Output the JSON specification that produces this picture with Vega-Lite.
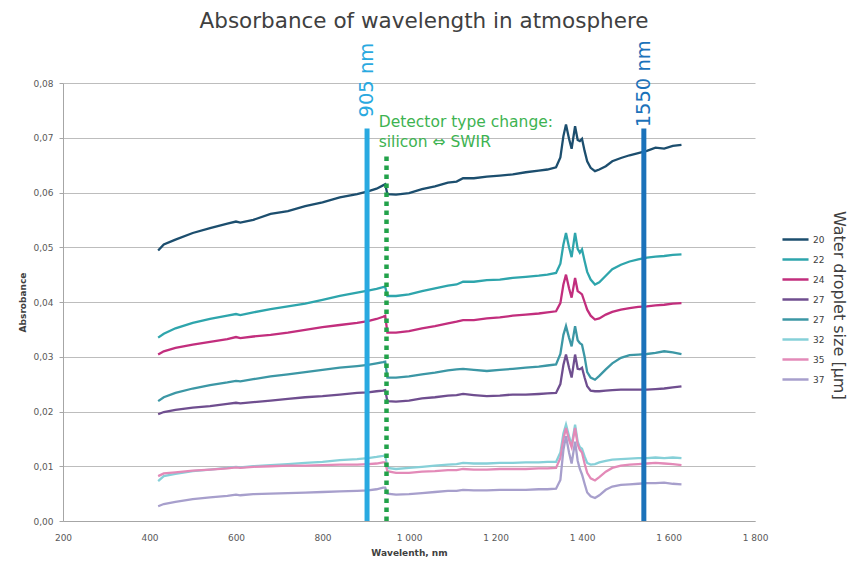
{
  "$schema": "https://vega.github.io/schema/vega-lite/v6.json",
  "autosize": "none",
  "width": 692,
  "height": 438,
  "padding": {"left": 63, "top": 83, "right": 97, "bottom": 43},
  "background": "white",
  "title": {"text": "Absorbance of wavelength in atmosphere", "font": "DejaVu Sans", "fontSize": 21.5, "fontWeight": "normal", "color": "#404040", "offset": 8, "dx": 15},
  "config": {
    "view": {"stroke": null},
    "font": "DejaVu Sans",
    "axis": {"labelFont": "DejaVu Sans", "labelFontSize": 9, "labelColor": "#595959", "titleFont": "DejaVu Sans", "titleFontSize": 9, "titleFontWeight": "bold", "titleColor": "#404040", "domainColor": "#a6a6a6", "tickColor": "#a6a6a6", "gridColor": "#bdbdbd"}
  },
  "data": {"values": [
    {"w":420,"s20":0.0494,"s22":0.0335,"s24":0.0304,"s27":0.0195,"s27b":0.0219,"s32":0.0073,"s35":0.0082,"s37":0.0027},
    {"w":433,"s20":0.0505,"s22":0.0342,"s24":0.0310,"s27":0.0199,"s27b":0.0226,"s32":0.0082,"s35":0.0087,"s37":0.0031},
    {"w":460,"s20":0.0514,"s22":0.0352,"s24":0.0316,"s27":0.0203,"s27b":0.0234,"s32":0.0086,"s35":0.0089,"s37":0.0035},
    {"w":500,"s20":0.0526,"s22":0.0362,"s24":0.0322,"s27":0.0207,"s27b":0.0242,"s32":0.0091,"s35":0.0092,"s37":0.0040},
    {"w":540,"s20":0.0535,"s22":0.0369,"s24":0.0327,"s27":0.0210,"s27b":0.0248,"s32":0.0094,"s35":0.0094,"s37":0.0043},
    {"w":580,"s20":0.0543,"s22":0.0375,"s24":0.0332,"s27":0.0214,"s27b":0.0253,"s32":0.0097,"s35":0.0096,"s37":0.0046},
    {"w":600,"s20":0.0547,"s22":0.0378,"s24":0.0336,"s27":0.0216,"s27b":0.0256,"s32":0.0099,"s35":0.0098,"s37":0.0048},
    {"w":610,"s20":0.0545,"s22":0.0376,"s24":0.0334,"s27":0.0215,"s27b":0.0255,"s32":0.0098,"s35":0.0097,"s37":0.0047},
    {"w":640,"s20":0.0550,"s22":0.0381,"s24":0.0337,"s27":0.0217,"s27b":0.0259,"s32":0.0100,"s35":0.0099,"s37":0.0049},
    {"w":680,"s20":0.0561,"s22":0.0387,"s24":0.0340,"s27":0.0220,"s27b":0.0264,"s32":0.0102,"s35":0.0100,"s37":0.0050},
    {"w":720,"s20":0.0566,"s22":0.0392,"s24":0.0344,"s27":0.0223,"s27b":0.0268,"s32":0.0104,"s35":0.0101,"s37":0.0051},
    {"w":760,"s20":0.0575,"s22":0.0397,"s24":0.0349,"s27":0.0226,"s27b":0.0272,"s32":0.0106,"s35":0.0101,"s37":0.0052},
    {"w":800,"s20":0.0582,"s22":0.0404,"s24":0.0354,"s27":0.0228,"s27b":0.0276,"s32":0.0108,"s35":0.0102,"s37":0.0053},
    {"w":840,"s20":0.0591,"s22":0.0411,"s24":0.0358,"s27":0.0231,"s27b":0.0280,"s32":0.0111,"s35":0.0103,"s37":0.0054},
    {"w":880,"s20":0.0597,"s22":0.0417,"s24":0.0362,"s27":0.0234,"s27b":0.0283,"s32":0.0113,"s35":0.0103,"s37":0.0055},
    {"w":905,"s20":0.0602,"s22":0.0421,"s24":0.0365,"s27":0.0235,"s27b":0.0285,"s32":0.0115,"s35":0.0104,"s37":0.0056},
    {"w":925,"s20":0.0607,"s22":0.0424,"s24":0.0369,"s27":0.0237,"s27b":0.0288,"s32":0.0117,"s35":0.0105,"s37":0.0058},
    {"w":940,"s20":0.0613,"s22":0.0427,"s24":0.0373,"s27":0.0238,"s27b":0.0290,"s32":0.0119,"s35":0.0107,"s37":0.0061},
    {"w":945,"s20":0.0615,"s22":0.0428,"s24":0.0375,"s27":0.0239,"s27b":0.0291,"s32":0.0120,"s35":0.0107,"s37":0.0061},
    {"w":950,"s20":0.0597,"s22":0.0411,"s24":0.0344,"s27":0.0219,"s27b":0.0262,"s32":0.0097,"s35":0.0091,"s37":0.0050},
    {"w":970,"s20":0.0596,"s22":0.0411,"s24":0.0344,"s27":0.0218,"s27b":0.0262,"s32":0.0095,"s35":0.0088,"s37":0.0048},
    {"w":1000,"s20":0.0599,"s22":0.0414,"s24":0.0347,"s27":0.0220,"s27b":0.0264,"s32":0.0097,"s35":0.0088,"s37":0.0049},
    {"w":1030,"s20":0.0606,"s22":0.0420,"s24":0.0352,"s27":0.0224,"s27b":0.0268,"s32":0.0099,"s35":0.0090,"s37":0.0051},
    {"w":1060,"s20":0.0611,"s22":0.0425,"s24":0.0356,"s27":0.0226,"s27b":0.0271,"s32":0.0101,"s35":0.0091,"s37":0.0053},
    {"w":1090,"s20":0.0618,"s22":0.0430,"s24":0.0361,"s27":0.0229,"s27b":0.0275,"s32":0.0103,"s35":0.0093,"s37":0.0055},
    {"w":1110,"s20":0.0620,"s22":0.0432,"s24":0.0364,"s27":0.0230,"s27b":0.0277,"s32":0.0104,"s35":0.0093,"s37":0.0055},
    {"w":1125,"s20":0.0626,"s22":0.0437,"s24":0.0367,"s27":0.0232,"s27b":0.0278,"s32":0.0106,"s35":0.0095,"s37":0.0057},
    {"w":1150,"s20":0.0626,"s22":0.0437,"s24":0.0367,"s27":0.0230,"s27b":0.0276,"s32":0.0105,"s35":0.0094,"s37":0.0056},
    {"w":1180,"s20":0.0629,"s22":0.0440,"s24":0.0370,"s27":0.0228,"s27b":0.0274,"s32":0.0105,"s35":0.0094,"s37":0.0056},
    {"w":1210,"s20":0.0631,"s22":0.0441,"s24":0.0372,"s27":0.0229,"s27b":0.0276,"s32":0.0106,"s35":0.0095,"s37":0.0057},
    {"w":1240,"s20":0.0633,"s22":0.0444,"s24":0.0375,"s27":0.0231,"s27b":0.0278,"s32":0.0106,"s35":0.0095,"s37":0.0057},
    {"w":1270,"s20":0.0637,"s22":0.0446,"s24":0.0377,"s27":0.0231,"s27b":0.0280,"s32":0.0107,"s35":0.0095,"s37":0.0057},
    {"w":1300,"s20":0.0640,"s22":0.0448,"s24":0.0379,"s27":0.0232,"s27b":0.0282,"s32":0.0107,"s35":0.0096,"s37":0.0058},
    {"w":1320,"s20":0.0642,"s22":0.0450,"s24":0.0381,"s27":0.0233,"s27b":0.0284,"s32":0.0108,"s35":0.0096,"s37":0.0058},
    {"w":1340,"s20":0.0646,"s22":0.0453,"s24":0.0383,"s27":0.0234,"s27b":0.0286,"s32":0.0108,"s35":0.0097,"s37":0.0059},
    {"w":1350,"s20":0.0664,"s22":0.0470,"s24":0.0398,"s27":0.0250,"s27b":0.0305,"s32":0.0125,"s35":0.0115,"s37":0.0075},
    {"w":1357,"s20":0.0703,"s22":0.0505,"s24":0.0432,"s27":0.0285,"s27b":0.0340,"s32":0.0160,"s35":0.0150,"s37":0.0130},
    {"w":1363,"s20":0.0724,"s22":0.0526,"s24":0.0450,"s27":0.0304,"s27b":0.0356,"s32":0.0176,"s35":0.0170,"s37":0.0155},
    {"w":1370,"s20":0.0698,"s22":0.0500,"s24":0.0425,"s27":0.0280,"s27b":0.0335,"s32":0.0155,"s35":0.0148,"s37":0.0125},
    {"w":1376,"s20":0.0680,"s22":0.0482,"s24":0.0408,"s27":0.0262,"s27b":0.0319,"s32":0.0138,"s35":0.0135,"s37":0.0105},
    {"w":1384,"s20":0.0721,"s22":0.0526,"s24":0.0444,"s27":0.0304,"s27b":0.0356,"s32":0.0176,"s35":0.0170,"s37":0.0145},
    {"w":1390,"s20":0.0696,"s22":0.0497,"s24":0.0420,"s27":0.0278,"s27b":0.0330,"s32":0.0145,"s35":0.0140,"s37":0.0110},
    {"w":1395,"s20":0.0694,"s22":0.0490,"s24":0.0417,"s27":0.0277,"s27b":0.0325,"s32":0.0135,"s35":0.0130,"s37":0.0095},
    {"w":1400,"s20":0.0698,"s22":0.0496,"s24":0.0414,"s27":0.0280,"s27b":0.0322,"s32":0.0132,"s35":0.0125,"s37":0.0085},
    {"w":1406,"s20":0.0676,"s22":0.0475,"s24":0.0400,"s27":0.0262,"s27b":0.0300,"s32":0.0118,"s35":0.0105,"s37":0.0068},
    {"w":1412,"s20":0.0657,"s22":0.0455,"s24":0.0386,"s27":0.0246,"s27b":0.0272,"s32":0.0106,"s35":0.0088,"s37":0.0052},
    {"w":1420,"s20":0.0645,"s22":0.0441,"s24":0.0375,"s27":0.0238,"s27b":0.0262,"s32":0.0103,"s35":0.0078,"s37":0.0045},
    {"w":1430,"s20":0.0639,"s22":0.0432,"s24":0.0368,"s27":0.0237,"s27b":0.0258,"s32":0.0104,"s35":0.0074,"s37":0.0042},
    {"w":1440,"s20":0.0642,"s22":0.0436,"s24":0.0370,"s27":0.0237,"s27b":0.0265,"s32":0.0107,"s35":0.0080,"s37":0.0047},
    {"w":1455,"s20":0.0648,"s22":0.0448,"s24":0.0377,"s27":0.0238,"s27b":0.0277,"s32":0.0110,"s35":0.0090,"s37":0.0057},
    {"w":1470,"s20":0.0657,"s22":0.0460,"s24":0.0382,"s27":0.0239,"s27b":0.0288,"s32":0.0112,"s35":0.0097,"s37":0.0063},
    {"w":1490,"s20":0.0663,"s22":0.0468,"s24":0.0386,"s27":0.0240,"s27b":0.0298,"s32":0.0113,"s35":0.0101,"s37":0.0066},
    {"w":1510,"s20":0.0668,"s22":0.0474,"s24":0.0389,"s27":0.0240,"s27b":0.0303,"s32":0.0114,"s35":0.0103,"s37":0.0067},
    {"w":1530,"s20":0.0672,"s22":0.0478,"s24":0.0391,"s27":0.0240,"s27b":0.0304,"s32":0.0115,"s35":0.0104,"s37":0.0068},
    {"w":1550,"s20":0.0676,"s22":0.0481,"s24":0.0392,"s27":0.0240,"s27b":0.0305,"s32":0.0115,"s35":0.0105,"s37":0.0069},
    {"w":1570,"s20":0.0682,"s22":0.0483,"s24":0.0394,"s27":0.0241,"s27b":0.0307,"s32":0.0116,"s35":0.0106,"s37":0.0069},
    {"w":1590,"s20":0.0680,"s22":0.0484,"s24":0.0395,"s27":0.0242,"s27b":0.0310,"s32":0.0115,"s35":0.0105,"s37":0.0070},
    {"w":1610,"s20":0.0685,"s22":0.0486,"s24":0.0397,"s27":0.0244,"s27b":0.0308,"s32":0.0116,"s35":0.0104,"s37":0.0068},
    {"w":1630,"s20":0.0687,"s22":0.0487,"s24":0.0398,"s27":0.0246,"s27b":0.0305,"s32":0.0115,"s35":0.0102,"s37":0.0067}
  ]},
  "layer": [
    {
      "transform": [{"fold": ["s20","s22","s24","s27","s27b","s32","s35","s37"], "as": ["size","abs"]}],
      "mark": {"type": "line", "strokeWidth": 2.3, "interpolate": "linear"},
      "encoding": {
        "x": {"field": "w", "type": "quantitative", "scale": {"domain": [200, 1800], "nice": false, "zero": false},
              "axis": {"values": [200,400,600,800,1000,1200,1400,1600,1800], "title": "Wavelenth, nm", "grid": false, "ticks": false, "labelFlush": false, "labelPadding": 12, "titlePadding": 6,
                       "labelExpr": "datum.value >= 1000 ? replace(format(datum.value, ','), ',', ' ') : format(datum.value, 'd')"}},
        "y": {"field": "abs", "type": "quantitative", "scale": {"domain": [0, 0.08], "nice": false},
              "axis": {"values": [0,0.01,0.02,0.03,0.04,0.05,0.06,0.07,0.08], "title": "Absrobance", "grid": true, "tickSize": 4, "labelPadding": 6, "titlePadding": 5,
                       "labelExpr": "replace(format(datum.value, '.2f'), '.', ',')"}},
        "color": {"field": "size", "type": "nominal",
                  "scale": {"domain": ["s20","s22","s24","s27","s27b","s32","s35","s37"],
                            "range": ["#1C4E6E","#2EA5AC","#C22E7D","#6F4E8F","#3C97A5","#86D0D8","#E38AB8","#A79FCC"]},
                  "legend": {"orient": "none", "legendX": 718, "legendY": 142, "title": null, "rowPadding": 0,
                             "symbolType": "stroke", "symbolStrokeWidth": 2.5, "symbolSize": 680, "labelFontSize": 9, "labelColor": "#404040", "labelFont": "DejaVu Sans", "labelOffset": 3,
                             "labelExpr": "replace(replace(datum.label, 's', ''), 'b', '')"}}
      }
    },
    {
      "data": {"values": [{"w": 903, "bot": 0, "top": 0.0717}]},
      "mark": {"type": "rule", "color": "#29A9E0", "strokeWidth": 5},
      "encoding": {"x": {"field": "w", "type": "quantitative"}, "y": {"field": "bot", "type": "quantitative"}, "y2": {"field": "top"}}
    },
    {
      "data": {"values": [{"w": 1543, "bot": 0, "top": 0.0717}]},
      "mark": {"type": "rule", "color": "#1B72BA", "strokeWidth": 5},
      "encoding": {"x": {"field": "w", "type": "quantitative"}, "y": {"field": "bot", "type": "quantitative"}, "y2": {"field": "top"}}
    },
    {
      "data": {"values": [{"w": 948, "bot": 0, "top": 0.0668}]},
      "mark": {"type": "rule", "color": "#22A24A", "strokeWidth": 4.5, "strokeDash": [4.5, 4.5]},
      "encoding": {"x": {"field": "w", "type": "quantitative"}, "y": {"field": "bot", "type": "quantitative"}, "y2": {"field": "top"}}
    },
    {
      "data": {"values": [{"w": 903, "y": 0.0737, "label": "905 nm", "c": "a"}, {"w": 1543, "y": 0.0719, "label": "1550 nm", "c": "b"}]},
      "mark": {"type": "text", "angle": 270, "align": "left", "baseline": "middle", "fontSize": 19.5, "font": "DejaVu Sans"},
      "encoding": {"x": {"field": "w", "type": "quantitative"}, "y": {"field": "y", "type": "quantitative"}, "text": {"field": "label", "type": "nominal"},
                   "color": {"field": "c", "type": "nominal", "scale": {"domain": ["a","b"], "range": ["#29A9E0","#1B72BA"]}, "legend": null}}
    },
    {
      "data": {"values": [{"w": 930, "y": 0.0741, "label": "Detector type change:|silicon ⇔ SWIR"}]},
      "transform": [{"calculate": "split(datum.label, '|')", "as": "lines"}],
      "mark": {"type": "text", "align": "left", "baseline": "top", "fontSize": 15.5, "font": "DejaVu Sans", "color": "#3DB351", "lineHeight": 20},
      "encoding": {"x": {"field": "w", "type": "quantitative"}, "y": {"field": "y", "type": "quantitative"}, "text": {"field": "lines"}}
    },
    {
      "data": {"values": [{"w": 1994, "y": 0.0394, "label": "Water droplet size [μm]"}]},
      "mark": {"type": "text", "angle": 90, "align": "center", "baseline": "middle", "fontSize": 16, "font": "DejaVu Sans", "color": "#404040"},
      "encoding": {"x": {"field": "w", "type": "quantitative"}, "y": {"field": "y", "type": "quantitative"}, "text": {"field": "label"}}
    }
  ],
  "resolve": {"scale": {"color": "independent"}}
}
